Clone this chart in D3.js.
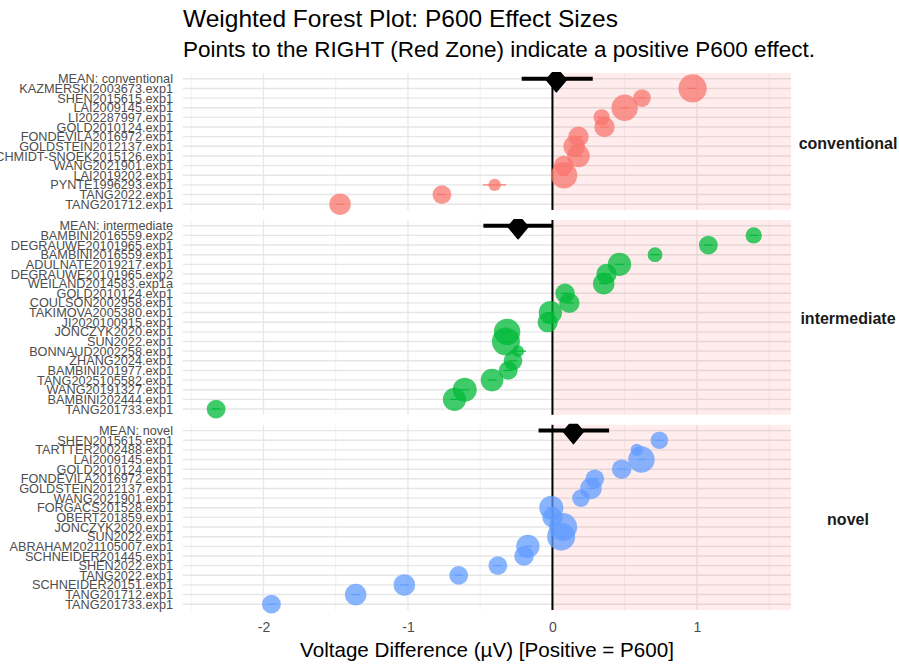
<!DOCTYPE html>
<html>
<head>
<meta charset="utf-8">
<script src="https://cdn.jsdelivr.net/npm/d3@7"></script>
<style>
  body { margin: 0; background: #fff; }
  svg { display: block; font-family: "Liberation Sans", Arial, Helvetica, sans-serif; }
</style>
</head>
<body>
<svg id="chart" width="899" height="664"></svg>
<script>
// ---- data ----
const groups = ["conventional", "intermediate", "novel"];
const groupColors = ["#F8766D", "#00BA38", "#619CFF"];

const conventionalStudies = ["KAZMERSKI2003673.exp1", "SHEN2015615.exp1", "LAI2009145.exp1", "LI202287997.exp1",
  "GOLD2010124.exp1", "FONDEVILA2016972.exp1", "GOLDSTEIN2012137.exp1", "SCHMIDT-SNOEK2015126.exp1",
  "WANG2021901.exp1", "LAI2019202.exp1", "PYNTE1996293.exp1", "TANG2022.exp1", "TANG201712.exp1"];
const conventionalEffects = [0.97, 0.62, 0.50, 0.34, 0.36, 0.18, 0.15, 0.18, 0.077, 0.08, -0.40, -0.765, -1.47];
const conventionalWeights = [20.3, 7.9, 17.8, 6.8, 10.5, 10.5, 11.8, 13.1, 9.7, 17.8, 3.9, 9.0, 11.8];
const conventionalHalfCI = [0.03, 0.03, 0.03, 0.03, 0.03, 0.03, 0.03, 0.03, 0.03, 0.03, 0.08, 0.03, 0.03];

const intermediateStudies = ["BAMBINI2016559.exp2", "DEGRAUWE20101965.exp1", "BAMBINI2016559.exp1",
  "ADULNATE2019217.exp1", "DEGRAUWE20101965.exp2", "WEILAND2014583.exp1a", "GOLD2010124.exp1",
  "COULSON2002958.exp1", "TAKIMOVA2005380.exp1", "JI2020100915.exp1", "JONCZYK2020.exp1", "SUN2022.exp1",
  "BONNAUD2002258.exp1", "ZHANG2024.exp1", "BAMBINI201977.exp1", "TANG2025105582.exp1", "WANG20191327.exp1",
  "BAMBINI202444.exp1", "TANG201733.exp1"];
const intermediateEffects = [1.393, 1.079, 0.71, 0.464, 0.374, 0.355, 0.087, 0.117, -0.014, -0.033, -0.314,
  -0.322, -0.238, -0.273, -0.306, -0.418, -0.607, -0.678, -2.328];
const intermediateWeights = [6.8, 9.0, 5.6, 13.8, 10.5, 11.8, 9.7, 10.5, 13.8, 10.5, 17.8, 20.0, 3.6, 9.0, 9.0,
  13.1, 14.8, 13.8, 9.0];
const intermediateHalfCI = [0.03, 0.03, 0.03, 0.03, 0.03, 0.03, 0.03, 0.03, 0.03, 0.03, 0.03, 0.03, 0.055, 0.03,
  0.03, 0.03, 0.03, 0.03, 0.03];

const novelStudies = ["SHEN2015615.exp1", "TARTTER2002488.exp1", "LAI2009145.exp1", "GOLD2010124.exp1",
  "FONDEVILA2016972.exp1", "GOLDSTEIN2012137.exp1", "WANG2021901.exp1", "FORGACS201528.exp1", "OBERT201859.exp1",
  "JONCZYK2020.exp1", "SUN2022.exp1", "ABRAHAM2021105007.exp1", "SCHNEIDER201445.exp1", "SHEN2022.exp1",
  "TANG2022.exp1", "SCHNEIDER20151.exp1", "TANG201712.exp1", "TANG201733.exp1"];
const novelEffects = [0.74, 0.584, 0.616, 0.479, 0.293, 0.266, 0.197, -0.008, 0.0, 0.074, 0.06, -0.17, -0.197,
  -0.378, -0.649, -1.025, -1.362, -1.945];
const novelWeights = [7.9, 3.9, 17.8, 9.7, 9.0, 11.8, 7.9, 14.8, 10.5, 20.0, 20.0, 13.8, 9.7, 9.0, 9.0, 11.8,
  11.8, 9.0];
const novelHalfCI = [0.03, 0.03, 0.03, 0.03, 0.03, 0.03, 0.03, 0.03, 0.03, 0.03, 0.03, 0.03, 0.03, 0.03, 0.03,
  0.03, 0.03, 0.03];

const meanEffects = [0.027, -0.238, 0.145];
const meanLower = [-0.213, -0.478, -0.096];
const meanUpper = [0.279, 0.0, 0.392];

const xDomain = [-2.557, 1.651];
const xMajorTicks = [-2, -1, 0, 1];
const xMinorTicks = [-2.5, -1.5, -0.5, 0.5, 1.5];

const titleText = "Weighted Forest Plot: P600 Effect Sizes";
const subtitleText = "Points to the RIGHT (Red Zone) indicate a positive P600 effect.";
const xTitleText = "Voltage Difference (\u00B5V) [Positive = P600]";

// ---- assemble facets ----
const facetData = [
  { studies: conventionalStudies, effects: conventionalEffects, weights: conventionalWeights, half: conventionalHalfCI },
  { studies: intermediateStudies, effects: intermediateEffects, weights: intermediateWeights, half: intermediateHalfCI },
  { studies: novelStudies, effects: novelEffects, weights: novelWeights, half: novelHalfCI }
].map((d, i) => ({
  group: groups[i],
  color: groupColors[i],
  rows: ["MEAN: " + groups[i]].concat(d.studies),
  points: d.studies.map((s, j) => ({ label: s, est: d.effects[j], w: d.weights[j], lo: d.effects[j] - d.half[j], hi: d.effects[j] + d.half[j] })),
  mean: { label: "MEAN: " + groups[i], est: meanEffects[i], lo: meanLower[i], hi: meanUpper[i] }
}));

// ---- layout ----
const svg = d3.select("#chart");
const plotLeft = 183, plotRight = 791;
const plotTop = 73, plotBottom = 610, panelGap = 10;
const pad = 0.6;

const x = d3.scaleLinear().domain(xDomain).range([plotLeft, plotRight]);
const size = d3.scaleSqrt().domain([0, 20]).range([0, 14]);

const units = facetData.map(f => f.rows.length - 1 + 2 * pad);
const unitPx = (plotBottom - plotTop - panelGap * (facetData.length - 1)) / d3.sum(units);

let cursor = plotTop;
facetData.forEach((f, i) => {
  const h = units[i] * unitPx;
  f.top = cursor;
  f.bottom = cursor + h;
  f.y = d3.scalePoint().domain(f.rows).range([f.top, f.bottom]).padding(pad);
  cursor += h + panelGap;
});

// title + subtitle
svg.append("text").attr("x", plotLeft).attr("y", 27)
  .attr("font-size", 24.5).attr("fill", "#000").text(titleText);
svg.append("text").attr("x", plotLeft).attr("y", 57)
  .attr("font-size", 22.5).attr("fill", "#000").text(subtitleText);

// diamond marker for the pooled means
const diamondPath = "M-4,-6 L4,-6 L10,1 L0,13 L-10,1 Z";

facetData.forEach(f => {
  const g = svg.append("g");
  const y = f.y;

  // vertical grid
  g.selectAll(".minor").data(xMinorTicks).join("line")
    .attr("x1", d => x(d)).attr("x2", d => x(d))
    .attr("y1", f.top).attr("y2", f.bottom)
    .attr("stroke", "#eeeeee").attr("stroke-width", 0.8);
  g.selectAll(".major").data(xMajorTicks).join("line")
    .attr("x1", d => x(d)).attr("x2", d => x(d))
    .attr("y1", f.top).attr("y2", f.bottom)
    .attr("stroke", "#e8e8e8").attr("stroke-width", 1.3);
  // horizontal grid, one per row
  g.selectAll(".hrow").data(f.rows).join("line")
    .attr("x1", plotLeft).attr("x2", plotRight)
    .attr("y1", d => y(d)).attr("y2", d => y(d))
    .attr("stroke", "#e6e6e6").attr("stroke-width", 1.4);

  // positive zone
  g.append("rect")
    .attr("x", x(0)).attr("y", f.top)
    .attr("width", plotRight - x(0)).attr("height", f.bottom - f.top)
    .attr("fill", "#ff0000").attr("fill-opacity", 0.07);

  // zero line
  g.append("line")
    .attr("x1", x(0)).attr("x2", x(0))
    .attr("y1", f.top).attr("y2", f.bottom)
    .attr("stroke", "#000").attr("stroke-width", 2);

  // study intervals
  g.selectAll(".ci").data(f.points).join("line")
    .attr("x1", d => x(d.lo)).attr("x2", d => x(d.hi))
    .attr("y1", d => y(d.label)).attr("y2", d => y(d.label))
    .attr("stroke", f.color).attr("stroke-width", 1.2);

  // study points
  g.selectAll(".pt").data(f.points).join("circle")
    .attr("cx", d => x(d.est)).attr("cy", d => y(d.label))
    .attr("r", d => size(d.w))
    .attr("fill", f.color).attr("fill-opacity", 0.75);

  // pooled mean
  const m = f.mean;
  g.append("line")
    .attr("x1", x(m.lo)).attr("x2", x(m.hi))
    .attr("y1", y(m.label)).attr("y2", y(m.label))
    .attr("stroke", "#000").attr("stroke-width", 4);
  g.append("path")
    .attr("d", diamondPath)
    .attr("transform", `translate(${x(m.est)},${y(m.label)})`)
    .attr("fill", "#000").attr("stroke", "#000").attr("stroke-width", 1.5)
    .attr("stroke-linejoin", "round");

  // row labels
  g.selectAll(".lab").data(f.rows).join("text")
    .attr("x", plotLeft - 10).attr("y", d => y(d))
    .attr("dy", "0.36em").attr("text-anchor", "end")
    .attr("font-size", 12.7).attr("fill", "#4d4d4d")
    .text(d => d);

  // facet strip label
  g.append("text")
    .attr("x", 848).attr("y", (f.top + f.bottom) / 2 + 1.5)
    .attr("dy", "0.35em").attr("text-anchor", "middle")
    .attr("font-size", 16).attr("font-weight", "bold").attr("fill", "#1a1a1a")
    .text(f.group);
});

// x axis
const axis = svg.append("g")
  .attr("transform", `translate(0,${plotBottom})`)
  .call(d3.axisBottom(x).tickValues(xMajorTicks).tickSize(0).tickPadding(12).tickFormat(d => String(d)));
axis.select(".domain").remove();
axis.selectAll("text").attr("font-size", 14).attr("fill", "#4d4d4d")
  .attr("font-family", "\"Liberation Sans\", Arial, sans-serif");

svg.append("text")
  .attr("x", (plotLeft + plotRight) / 2).attr("y", 657)
  .attr("text-anchor", "middle").attr("font-size", 20.6).attr("fill", "#000")
  .text(xTitleText);
</script>
</body>
</html>
